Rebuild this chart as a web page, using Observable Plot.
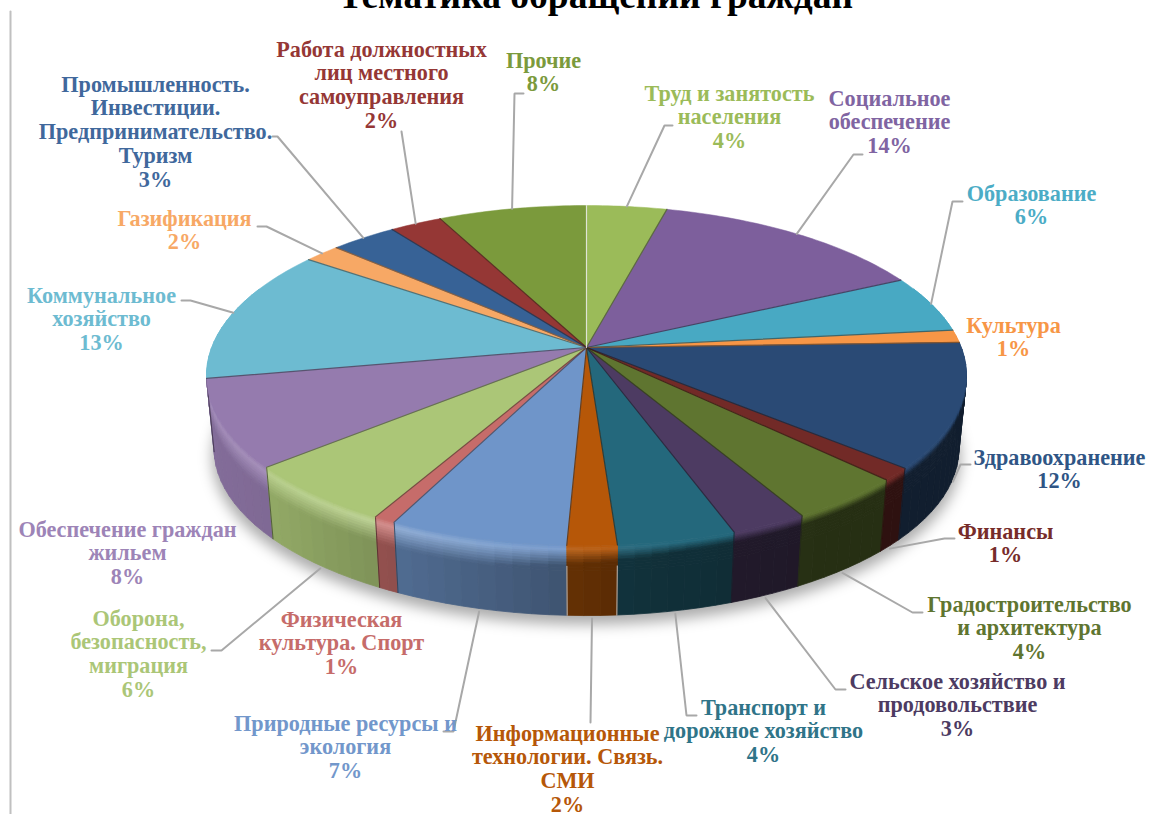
<!DOCTYPE html>
<html><head><meta charset="utf-8">
<script src="https://cdn.jsdelivr.net/npm/d3@7"></script>
<script src="https://cdn.jsdelivr.net/npm/@observablehq/plot@0.6"></script>
<style>html,body{margin:0;padding:0;background:#fff;overflow:hidden}svg{display:block}</style>
</head><body><div id="chart"></div>
<script>
const chartTitle = "Тематика обращений граждан";
const categories = [
  "Труд и занятость\nнаселения","Социальное\nобеспечение","Образование","Культура","Здравоохранение",
  "Финансы","Градостроительство\nи архитектура","Сельское хозяйство и\nпродовольствие",
  "Транспорт и\nдорожное хозяйство","Информационные\nтехнологии. Связь.\nСМИ","Природные ресурсы и\nэкология",
  "Физическая\nкультура. Спорт","Оборона,\nбезопасность,\nмиграция","Обеспечение граждан\nжильем",
  "Коммунальное\nхозяйство","Газификация","Промышленность.\nИнвестиции.\nПредпринимательство.\nТуризм",
  "Работа должностных\nлиц местного\nсамоуправления","Прочие"];
const shares = [4.0,13.8,5.5,1.2,11.8,1.2,4.3,2.8,4.3,1.8,6.5,0.8,5.8,8.3,12.8,1.8,3.3,2.6,7.4];
const percentLabels = [4,14,6,1,12,1,4,3,4,2,7,1,6,8,13,2,3,2,8];
const sliceColors = ["#9bbb59","#7d5f9c","#48a9c3","#f79646","#2a4a75","#722a27","#5f7530","#4d3b62","#24687c","#b65708","#6f95c9","#c66c6a","#abc677","#957bae","#6dbbd1","#f7a865","#376296","#953735","#7b9a3c"];
const labelColors = ["#9bbb59","#8064a2","#4bacc6","#f79646","#2f5585","#772c2a","#5f7530","#4d3b62","#2f7488","#b65708","#7297cb","#c66c6a","#abc677","#9d84b7","#6dbbd1","#f7a865","#40689c","#953735","#7b9a3c"];

// layout of the annotation layer (centre x, y of first line, elbow points)
const labelX = [729,889,1031,1013,1059,1005,1029,957,763,567,345,341,138,127,101,184,155,381,543];
const labelY = [94,99,194,326,458,532,605,682,708,734,724,620,619,530,296,219,85,50,61];
const leaderElbows = [
  [[664,125],[672,125]],[[853,154],[862,154]],[[952,201],[962,201]],null,[[960,464],[970,464]],
  [[944,538],[954,538]],[[912,612],[922,612]],[[835,689],[845,689]],[[686,715],[696,715]],[[590,722]],
  [[453,731],[443,731]],null,[[221,650],[211,650]],null,[[190,300],[181,300]],[[266,226],[257,226]],
  [[277,136],[272,136]],[[401,131]],[[514,93],[523,93]]];

// perspective disc
const cx = 586, apexY = 347, ra = 374.8, rb = 165.4, k = 0.1647;
const bottomScale = 0.98, depth = 74;
const rad = d => d * Math.PI / 180;
function rim(deg, layer = 0, scale = 1) {       // layer 0 = top face, 1 = bottom face
  const c = Math.cos(rad(deg)), s = Math.sin(rad(deg)), w = 1 + k * c;
  const f = (1 - layer * (1 - bottomScale)) * scale;
  return [cx + ra * s / w * f, apexY + layer * depth - rb * c / w * f];
}
let acc = 0;
const total = d3.sum(shares);
const slices = shares.map((v, i) => {
  const a0 = acc / total * 360; acc += v;
  return {i, a0, a1: acc / total * 360, mid: (a0 + acc / total * 360) / 2};
});

const darkenAt = d3.scaleLinear().domain([-380,-315,-250,-190,-30,50,180,250]).range([.88,.85,.78,.72,.57,.47,.42,.40]).clamp(true);
const glowAt = d3.scaleLinear().domain([-380,-200,0,100]).range([.12,.24,.08,0]).clamp(true);
const bandAt = d3.scaleLinear().domain([-380,-100,100,400]).range([.36,.36,.16,.12]).clamp(true);
const shade = (col, f) => { const c = d3.rgb(col); return d3.rgb(c.r*f, c.g*f, c.b*f).formatHex(); };

function wallColor(base, u, t) {
  const side = shade(base, darkenAt(u));
  const glow = d3.interpolateRgb(base, "#ffffff")(glowAt(u));
  const band = bandAt(u), peak = band * 0.22;
  if (t <= peak) return d3.rgb(d3.interpolateRgb(base, glow)(t / peak)).formatHex();
  if (t <= band) return d3.rgb(d3.interpolateRgb(glow, side)((t - peak) / (band - peak))).formatHex();
  return side;
}

// wall facets, painted from the back of the disc towards the front
const facets = [];
for (const s of slices) {
  const lo = Math.max(s.a0, 68), hi = Math.min(s.a1, 292);
  if (hi <= lo) continue;
  const n = Math.max(1, Math.ceil((hi - lo) / 2.5));
  for (let j = 0; j < n; j++) facets.push({s, a: lo + (hi - lo) * j / n, b: lo + (hi - lo) * (j + 1) / n});
}
facets.sort((p, q) => Math.abs((q.a + q.b) / 2 - 180) - Math.abs((p.a + p.b) / 2 - 180));
const depthSteps = [0,.025,.05,.075,.1,.13,.16,.2,.24,.28,.32,.36,1];
const wallPt = (deg, t) => { const p = rim(deg, 0), q = rim(deg, 1); return [p[0] + (q[0]-p[0])*t, p[1] + (q[1]-p[1])*t]; };
const wallRows = [];
let pid = 0;
for (const {s, a, b} of facets) {
  const uMid = rim((a + b) / 2)[0] - cx;
  for (let r = 0; r < depthSteps.length - 1; r++) {
    const t0 = depthSteps[r], t1 = depthSteps[r + 1];
    const fill = wallColor(sliceColors[s.i], uMid, (t0 + t1) / 2);
    pid++;
    for (const p of [wallPt(a,t0), wallPt(b,t0), wallPt(b,t1), wallPt(a,t1), wallPt(a,t0)]) wallRows.push({poly: pid, x: p[0], y: p[1], fill});
  }
}

const topRows = [];
for (const s of slices) {
  topRows.push({poly: s.i, x: cx, y: apexY, fill: sliceColors[s.i]});
  const n = Math.ceil((s.a1 - s.a0) / 1);
  for (let j = 0; j <= n; j++) {
    const p = rim(s.a0 + (s.a1 - s.a0) * j / n);
    topRows.push({poly: s.i, x: p[0], y: p[1], fill: sliceColors[s.i]});
  }
  topRows.push({poly: s.i, x: cx, y: apexY, fill: sliceColors[s.i]});
}

const edgeRows = slices.flatMap(s => {
  const p = rim(s.a1);
  const stroke = s.i === slices.length - 1 ? "#eeeeee" : shade(sliceColors[s.i], .55);
  return [{id: s.i, x: cx, y: apexY, stroke}, {id: s.i, x: p[0], y: p[1], stroke}];
});
const seamRows = slices.filter(s => s.a1 > 120 && s.a1 < 262).flatMap(s => {
  const p = rim(s.a1), q = rim(s.a1, 1);
  const stroke = s.i === 9 || s.i === 8 ? "#d8dde2" : shade(sliceColors[s.i], .4);
  const t = s.i === 9 || s.i === 8 ? .3 : 0;
  return [{id: s.i, x: p[0] + (q[0]-p[0])*t, y: p[1] + (q[1]-p[1])*t, stroke}, {id: s.i, x: q[0], y: q[1], stroke}];
});

const shadowRows = d3.range(0, 361, 3).map(d => { const p = rim(d, 1, 1.005); return {x: p[0], y: p[1] + 8}; });

const labels = categories.map((c, i) => ({
  text: c + "\n" + percentLabels[i] + "%", x: labelX[i], y: labelY[i] - 11, color: labelColors[i]
}));

const leaderRows = slices.flatMap(s => {
  const elbows = leaderElbows[s.i];
  if (!elbows) return [];
  const front = s.mid > 95 && s.mid < 265;
  const a = rim(s.mid, front ? 1 : 0);
  const start = front ? [a[0], a[1] + 3] : a;
  return [start, ...elbows].map(p => ({id: s.i, x: p[0], y: p[1]}));
});

const frameRows = [{x: 10, y: 11}, {x: 10, y: 814}];

const chart = Plot.plot({
  width: 1161, height: 814, margin: 0,
  x: {domain: [0, 1161], range: [0, 1161], axis: null},
  y: {domain: [0, 814], range: [0, 814], axis: null},
  color: {type: "identity"},
  style: {background: "#fff"},
  marks: [
    Plot.line(frameRows, {x: "x", y: "y", stroke: "#c0c0c0", strokeWidth: 2}),
    Plot.line(shadowRows, {x: "x", y: "y", fill: "#000", fillOpacity: .33, stroke: "none", imageFilter: "blur(7px)"}),
    Plot.line(wallRows, {x: "x", y: "y", z: "poly", fill: "fill", stroke: "fill", strokeWidth: .8, curve: "linear"}),
    Plot.line(seamRows, {x: "x", y: "y", z: "id", stroke: "stroke", strokeWidth: 1, strokeOpacity: .8}),
    Plot.line(topRows, {x: "x", y: "y", z: "poly", fill: "fill", stroke: "fill", strokeWidth: .5}),
    Plot.line(edgeRows, {x: "x", y: "y", z: "id", stroke: "stroke", strokeWidth: 1.2, strokeOpacity: .85}),
    Plot.line(leaderRows, {x: "x", y: "y", z: "id", stroke: "#a8a8a8", strokeWidth: 2, strokeLinejoin: "miter"}),
    Plot.text(labels, {x: "x", y: "y", text: "text", fill: "color", lineAnchor: "top", textAnchor: "middle",
      fontFamily: "Liberation Serif", fontWeight: "bold", fontSize: 22.2, lineHeight: 1.08}),
    Plot.text([chartTitle], {x: () => 595, y: () => 7, text: d => d, fill: "#000", lineAnchor: "bottom", textAnchor: "middle",
      fontFamily: "Liberation Serif", fontWeight: "bold", fontSize: 37.5})
  ]
});
document.getElementById("chart").append(chart);
</script></body></html>
